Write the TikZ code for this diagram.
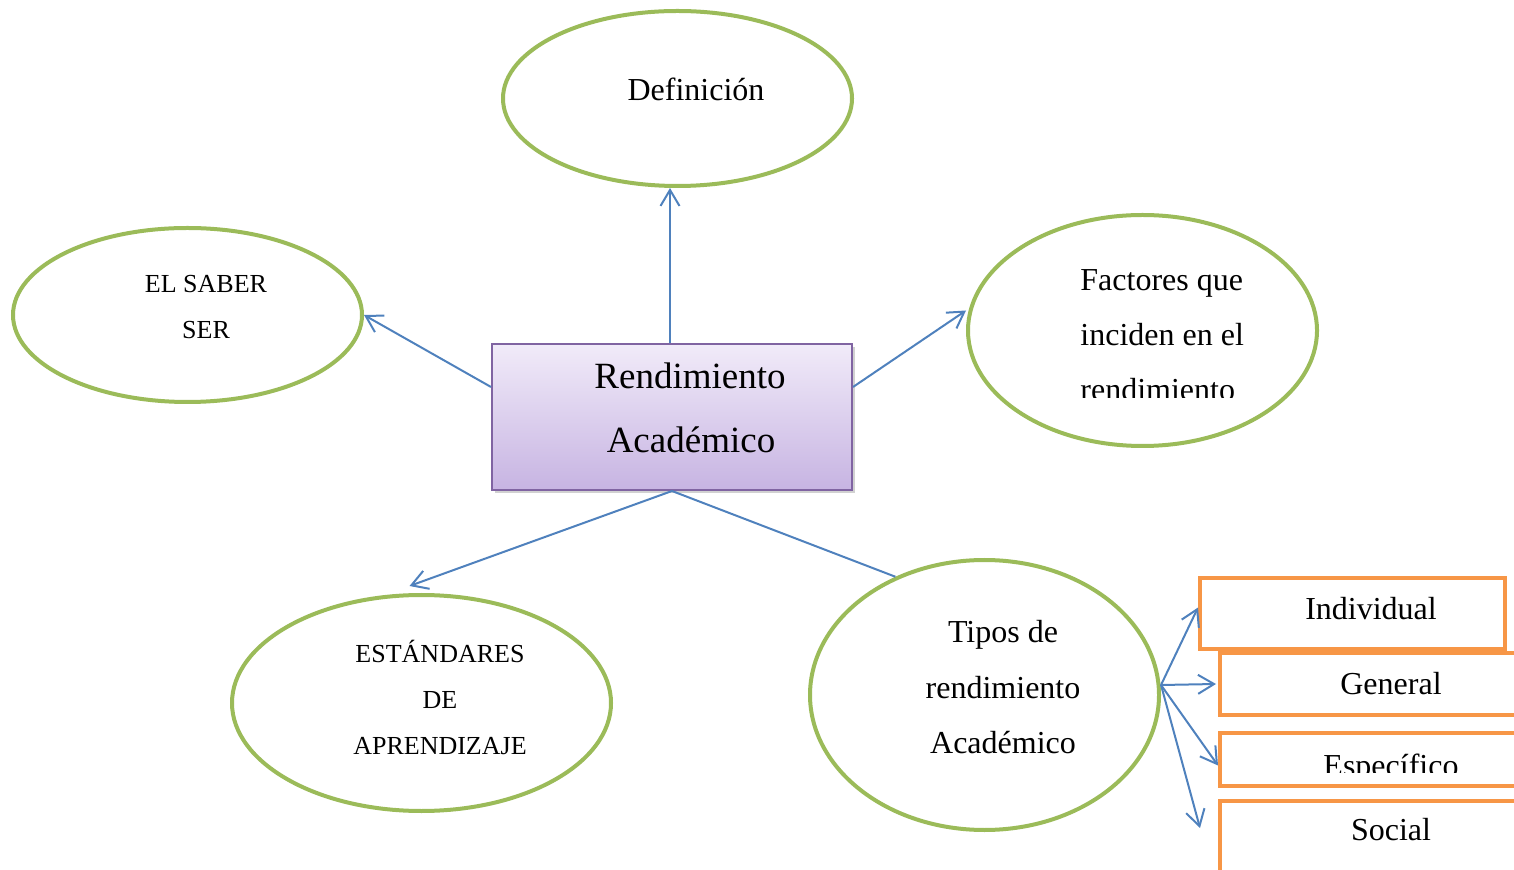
\documentclass[tikz,border=0pt]{standalone}
\usepackage{fontspec}
\setmainfont{Liberation Serif}
\usetikzlibrary{shapes.geometric,arrows.meta,shadows}
\definecolor{verde}{HTML}{9BBB59}
\definecolor{azul}{HTML}{4F81BD}
\definecolor{naranja}{HTML}{F79646}
\definecolor{morado}{HTML}{8064A2}
\definecolor{lilaA}{HTML}{F1EBF9}
\definecolor{lilaB}{HTML}{C7B4E2}
\tikzset{%
  ovalo/.style={ellipse, draw=verde, line width=2pt, inner sep=0pt},%
  caja/.style={rectangle, draw=naranja, line width=2pt, inner sep=0pt},%
  central/.style={rectangle, draw=morado, line width=1pt, top color=lilaA, bottom color=lilaB,%
    drop shadow={shadow xshift=1.5pt, shadow yshift=-1.5pt, opacity=0.3, fill=black!60}},%
  flecha/.style={azul, line width=1pt, -{Straight Barb[length=8pt,width=9.5pt]}},%
  linea/.style={azul, line width=1pt},%
  etiq/.style={font=\fontsize{16}{19}\selectfont, inner sep=0pt, anchor=base},%
  mayus/.style={font=\fontsize{13}{16}\selectfont, inner sep=0pt, anchor=base},%
  grande/.style={font=\fontsize{18.5}{22}\selectfont, inner sep=0pt, anchor=base},%
}
\begin{document}
\begin{tikzpicture}[x=0.5pt,y=-0.5pt]%
\useasboundingbox (0,0) rectangle (1514,870);%
\clip (0,0) rectangle (1514,870);%
%
% centro
\node[central, minimum width=180pt, minimum height=73pt] (rend) at (672,417) {};%
\node[grande] (rend1) at (690,389) {Rendimiento};%
\node[grande] (rend2) at (691,453) {Académico};%
%
% elipses
\node[ovalo, minimum width=174.5pt, minimum height=87.5pt] (def) at (677.5,98.5) {};%
\node[etiq] (def1) at (696,101) {Definición};%
%
\node[ovalo, minimum width=174.5pt, minimum height=87pt] (saber) at (187.5,315) {};%
\node[mayus] (saber1) at (206,293) {EL SABER};%
\node[mayus] (saber2) at (206,339) {SER};%
%
\node[ovalo, minimum width=174.5pt, minimum height=115.5pt] (fact) at (1142.5,330.5) {};%
\node[etiq, anchor=base west] (fact1) at (1080,291) {Factores que};%
\node[etiq, anchor=base west] (fact2) at (1080,346) {inciden en el};%
\begin{scope}%
\clip (1000,360) rectangle (1300,398);%
\node[etiq, anchor=base west] (fact3) at (1080,401) {rendimiento};%
\end{scope}%
%
\node[ovalo, minimum width=189.5pt, minimum height=108pt] (est) at (421.5,703) {};%
\node[mayus] (est1) at (440,662) {ESTÁNDARES};%
\node[mayus] (est2) at (440,708) {DE};%
\node[mayus] (est3) at (440,754) {APRENDIZAJE};%
%
\node[ovalo, minimum width=174.5pt, minimum height=135pt] (tipos) at (984.5,695) {};%
\node[etiq] (tipos1) at (1003,642) {Tipos de};%
\node[etiq] (tipos2) at (1003,698) {rendimiento};%
\node[etiq] (tipos3) at (1003,753) {Académico};%
%
% cajas
\node[caja, minimum width=152.5pt, minimum height=35.5pt] (ind) at (1352.5,613.5) {};%
\node[etiq] (ind1) at (1371,619) {Individual};%
\node[caja, minimum width=152.5pt, minimum height=31pt] (gen) at (1372.5,684) {};%
\node[etiq] (gen1) at (1391,694) {General};%
\node[caja, minimum width=152.5pt, minimum height=26.5pt] (esp) at (1372.5,759.5) {};%
\begin{scope}%
\clip (1230,740) rectangle (1500,772);%
\node[etiq] (esp1) at (1391,776) {Específico};%
\end{scope}%
\node[caja, minimum width=152.5pt, minimum height=44.5pt] (soc) at (1372.5,845.5) {};%
\node[etiq] (soc1) at (1391,840) {Social};%
\coordinate (socpt) at (1200,828);%
%
% conectores
\draw[flecha] ([xshift=-1pt]rend.north) -- ([xshift=-1pt]rend.north |- def.south);%
\draw[flecha] ([yshift=15pt]rend.west) -- (saber.east);%
\draw[flecha] ([yshift=15pt]rend.east) -- ([yshift=10pt]fact.west);%
\draw[flecha] (rend.south) -- ([xshift=-6pt,yshift=3.5pt]est.north);%
\draw[linea] (rend.south) -- (tipos.127);%
\draw[flecha] ([yshift=5pt]tipos.east) -- ([yshift=3pt]ind.west);%
\draw[flecha] ([yshift=5pt]tipos.east) -- ([xshift=-1pt]gen.west);%
\draw[flecha] ([yshift=5pt]tipos.east) -- ([yshift=-3pt]esp.west);%
\draw[flecha] ([yshift=5pt]tipos.east) -- (socpt);%
\end{tikzpicture}%
\end{document}
